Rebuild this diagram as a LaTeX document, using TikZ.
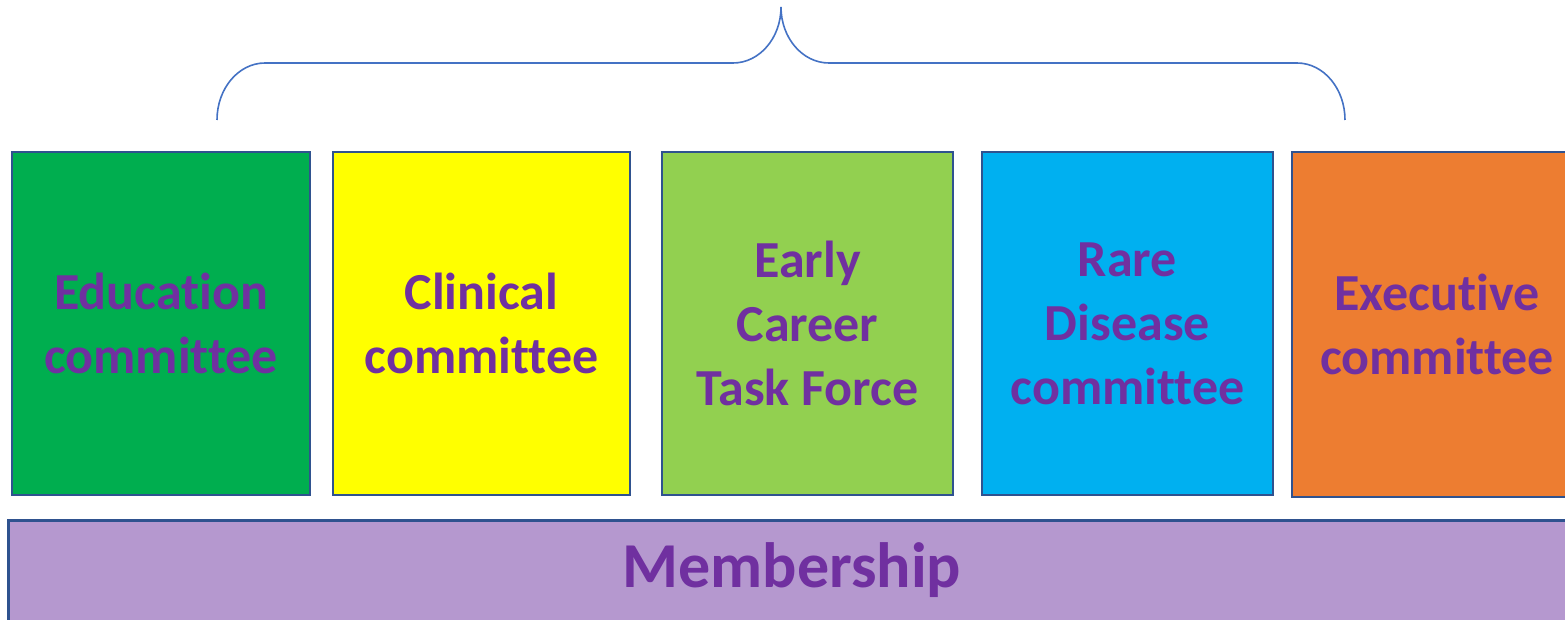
\documentclass[tikz,border=0pt]{standalone}
\usepackage{fontspec}
\setmainfont{Carlito}[Ligatures={NoCommon,NoRare,NoContextual}]
\usepackage{tikz}
\definecolor{edgeblue}{HTML}{2F528F}
\definecolor{bracecol}{HTML}{4472C4}
\definecolor{txtpurple}{HTML}{7030A0}
\definecolor{cgreen}{HTML}{00AE4F}
\definecolor{cyellow}{HTML}{FFFF00}
\definecolor{clime}{HTML}{92D050}
\definecolor{cblue}{HTML}{00B0F0}
\definecolor{corange}{HTML}{ED7D31}
\definecolor{clavender}{HTML}{B598CF}
\begin{document}
\begin{tikzpicture}
[
x=0.5pt, y=-0.5pt,
box/.style={rectangle, draw=edgeblue, line width=1.4pt, text=txtpurple, align=center, inner sep=0pt,
  minimum height=171.5pt, font=\fontsize{26}{32}\selectfont\bfseries},
base/.style={rectangle, draw=edgeblue, line width=1.4pt, text=txtpurple, inner sep=0pt,
  minimum width=785pt, minimum height=55pt},
bracket/.style={draw=bracecol, line width=0.8pt}
]
\clip (0,0) rectangle (1565,620);
\node (edu) [box, fill=cgreen, minimum width=149pt] at (161,323.5) {Education\\committee};
\node (clin) [box, fill=cyellow, minimum width=148.5pt] at (481.5,323.5) {Clinical\\committee};
\node (ecr) [box, fill=clime, minimum width=145.5pt] at (807.5,323.5) {Early\\Career\\Task Force};
\node (rare) [box, fill=cblue, minimum width=145.5pt] at (1127.5,323.5) {Rare\\Disease\\committee};
\node (exec) [box, fill=corange, minimum width=145pt, minimum height=172.5pt] at (1437,324.5) {Executive\\committee};
\node (memb) [base, fill=clavender, anchor=north west] at (7,519) {};
\node (membtxt) [text=txtpurple, font=\fontsize{32}{38}\selectfont\bfseries] at (792,570) {Membership};
% brace over the committees
\coordinate (bl) at (217,120);
\coordinate (br) at (1345,120);
\coordinate (tip) at (781,7);
\path[bracket] (bl) .. controls (217,88.5) and (238.5,63) .. (265,63) -- (733,63)
  .. controls (759.5,63) and (781,38) .. (tip)
  .. controls (781,38) and (802.5,63) .. (829,63) -- (1297,63)
  .. controls (1323.5,63) and (1345,88.5) .. (br);
\end{tikzpicture}
\end{document}
